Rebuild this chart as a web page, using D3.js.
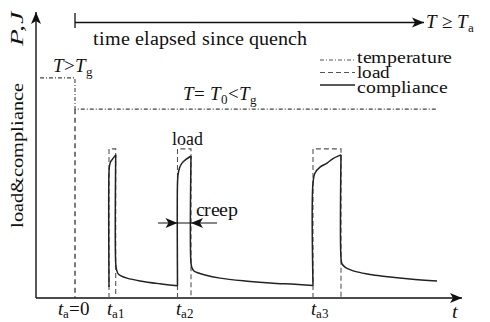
<!DOCTYPE html>
<html><head><meta charset="utf-8">
<script src="https://cdn.jsdelivr.net/npm/d3@7"></script>
<style>
@font-face{font-family:"RefSerif";font-style:normal;font-weight:400;src:local("Liberation Serif"),local("LiberationSerif"),local("Liberation Serif Regular");}
@font-face{font-family:"RefSerif";font-style:italic;font-weight:400;src:local("Liberation Serif Italic"),local("LiberationSerif-Italic");}
</style>
</head>
<body style="margin:0"><svg id="c" width="490" height="322"></svg>
<script>
// ---- data (time units: t_a = 0 at origin of ageing; level units arbitrary) ----
const loadPulses = [ // [start, end] of each load step
  [3.4, 4.07],
  [10.25, 11.6],
  [23.8, 26.6]
];
const loadLevel = 5.25;
const tickLabels = [
  {t: 0,     main: "t", sub: "a", tail: "=0"},
  {t: 3.4,   main: "t", sub: "a1", tail: ""},
  {t: 10.25, main: "t", sub: "a2", tail: ""},
  {t: 23.8,  main: "t", sub: "a3", tail: ""}
];
const temperature = [
  [-3.5, 7.75], [0, 7.75], [0, 6.65], [36.2, 6.65]
];
const complianceSegments = [
  [[3.4,0.39],[3.4,4.44],[3.45,4.65],[3.55,4.79],[3.75,4.89],[4.07,5.04]],
  [[4.07,5.04],[4.07,1.23],[4.15,1.0],[4.3,0.86],[4.6,0.78],[5.2,0.7],[6.5,0.6],[8.5,0.5],[10.25,0.43]],
  [[10.25,0.43],[10.25,4.05],[10.3,4.33],[10.45,4.58],[10.7,4.75],[11.1,4.88],[11.6,5.0]],
  [[11.6,5.0],[11.6,1.23],[11.7,1.06],[11.9,0.95],[12.2,0.9],[13,0.81],[14.5,0.7],[17,0.6],[19.5,0.53],[22,0.48],[23.8,0.44]],
  [[23.8,0.44],[23.8,4.05],[24.0,4.4],[24.5,4.61],[25.2,4.75],[25.8,4.91],[26.6,5.04]],
  [[26.6,5.04],[26.6,1.41],[26.7,1.2],[27.0,1.09],[27.5,1.0],[28.2,0.92],[29.5,0.83],[30.8,0.77],[33.5,0.67],[36.2,0.6]]
];
const legendItems = [
  {label: "temperature", dash: "4,2,1,2"},
  {label: "load", dash: "5,3"},
  {label: "compliance", dash: null}
];

// ---- drawing ----
const FONT = "RefSerif, Liberation Serif, Times New Roman, serif";
const svg = d3.select("#c");
const x = d3.scaleLinear().domain([0, 38.7]).range([75, 462]);
const y = d3.scaleLinear().domain([0, 10]).range([298, 14]);

const line = d3.line().x(d => x(d[0])).y(d => y(d[1]));

function arrowHead(x2, y2, angle){
  const L = 12, W = 5, n = 3;
  const c = Math.cos(angle), s = Math.sin(angle);
  const pt = (a, b) => [x2 + a*c - b*s, y2 + a*s + b*c];
  const pts = [pt(0,0), pt(-L, -W), pt(-L+n, 0), pt(-L, W)];
  svg.append("path").attr("d", "M" + pts.map(p => p.join(",")).join("L") + "Z").attr("fill","#111");
}
function arrowLine(x1, y1, x2, y2, w){
  svg.append("line").attr("x1",x1).attr("y1",y1).attr("x2",x2).attr("y2",y2)
    .attr("stroke","#111").attr("stroke-width",w);
  arrowHead(x2, y2, Math.atan2(y2-y1, x2-x1));
}

// axes
arrowLine(x(-3.9), y(0), x(38.7), y(0), 1.4);
arrowLine(x(-3.9), y(0), x(-3.9), 12, 1.4);

// time-elapsed arrow
svg.append("line").attr("x1", x(0)).attr("y1", 13).attr("x2", x(0)).attr("y2", 28)
  .attr("stroke","#111").attr("stroke-width",1.3);
arrowLine(x(0), 22.5, 424, 22.5, 1.3);

// temperature
svg.append("path").attr("d", line(temperature)).attr("fill","none")
  .attr("stroke","#444").attr("stroke-width",1.1).attr("stroke-dasharray","4,2,1,2");
// quench dashed line
svg.append("line").attr("x1", x(0)).attr("x2", x(0)).attr("y1", y(6.65)).attr("y2", y(0))
  .attr("stroke","#333").attr("stroke-width",1.3).attr("stroke-dasharray","5,3.5");

// load pulses
svg.selectAll(".load").data(loadPulses).join("path").attr("class","load")
  .attr("d", d => line([[d[0],0],[d[0],loadLevel],[d[1],loadLevel],[d[1],0]]))
  .attr("fill","none").attr("stroke","#555").attr("stroke-width",1.1).attr("stroke-dasharray","5,3");

// compliance
const cline = d3.line().x(d => x(d[0])).y(d => y(d[1])).curve(d3.curveCatmullRom.alpha(0.5));
svg.selectAll(".comp").data(complianceSegments).join("path").attr("class","comp")
  .attr("d", cline).attr("fill","none").attr("stroke","#222").attr("stroke-width",1.5);

// creep arrows
svg.append("line").attr("x1",158).attr("x2",217).attr("y1",223).attr("y2",223)
  .attr("stroke","#111").attr("stroke-width",1.2);
arrowHead(x(loadPulses[1][0]), 223, 0);
arrowHead(x(loadPulses[1][1]), 223, Math.PI);

// texts
const fs = 19, ss = 13;
function T(sel){ return sel.append("text").attr("font-family", FONT).attr("fill","#111"); }
function sp(t){ return t.append("tspan").attr("font-family", FONT); }
function sub(t, s){ sp(t).attr("font-size", ss).attr("dy",4).text(s); }

T(svg).attr("x",93).attr("y",45).attr("font-size",20)
  .attr("textLength",214).attr("lengthAdjust","spacingAndGlyphs").text("time elapsed since quench");

let t1 = T(svg).attr("x",426).attr("y",28).attr("font-size",fs);
sp(t1).attr("font-style","italic").text("T");
sp(t1).text(" ≥ ");
sp(t1).attr("font-style","italic").text("T");
sub(t1,"a");

let t2 = T(svg).attr("x",53).attr("y",72).attr("font-size",fs);
sp(t2).attr("font-style","italic").text("T");
sp(t2).text(">");
sp(t2).attr("font-style","italic").text("T");
sub(t2,"g");

let t3 = T(svg).attr("x",183).attr("y",100).attr("font-size",fs);
sp(t3).attr("font-style","italic").text("T");
sp(t3).text("= ");
sp(t3).attr("font-style","italic").text("T");
sp(t3).attr("font-size",ss).attr("dy",4).text("0");
sp(t3).attr("dy",-4).text("<");
sp(t3).attr("font-style","italic").text("T");
sub(t3,"g");

// legend
const lg = svg.append("g").selectAll("g").data(legendItems).join("g")
  .attr("transform",(d,i)=>`translate(320,${60 + i*12.5})`);
lg.append("line").attr("x1",0).attr("x2",35).attr("y1",0).attr("y2",0)
  .attr("stroke",(d,i)=> i===2 ? "#222" : "#555").attr("stroke-width",(d,i)=> i===2?1.5:1.1)
  .attr("stroke-dasharray", d => d.dash);
lg.append("text").attr("font-family", FONT).attr("fill","#111")
  .attr("x",37).attr("y",(d,i)=> 3 + i*2.5).attr("font-size",18)
  .attr("textLength",(d,i)=>[95,33,91][i]).attr("lengthAdjust","spacingAndGlyphs").text(d => d.label);

// annotations
T(svg).attr("x",172).attr("y",145).attr("font-size",fs)
  .attr("textLength",31).attr("lengthAdjust","spacingAndGlyphs").text("load");
T(svg).attr("x",196).attr("y",216).attr("font-size",fs)
  .attr("textLength",42).attr("lengthAdjust","spacingAndGlyphs").text("creep");

// tick labels
const tl = svg.selectAll(".tl").data(tickLabels).join("text").attr("class","tl")
  .attr("font-family", FONT).attr("fill","#111")
  .attr("x",(d,i)=> i===0 ? x(d.t)-17 : x(d.t)-2).attr("y",315).attr("font-size",fs);
tl.append("tspan").attr("font-family", FONT).attr("font-style","italic").text(d=>d.main);
tl.append("tspan").attr("font-family", FONT).attr("font-size",ss).attr("dy",3).text(d=>d.sub);
tl.append("tspan").attr("font-family", FONT).attr("dy",-3).text(d=>d.tail);
T(svg).attr("x",452).attr("y",318).attr("font-size",20).attr("font-style","italic").text("t");

// y label
T(svg).attr("transform","translate(23,228) rotate(-90)").attr("font-size",18)
  .attr("textLength",145).attr("lengthAdjust","spacingAndGlyphs").text("load&compliance");
T(svg).attr("transform","translate(23,46) rotate(-90)").attr("font-size",18)
  .attr("font-style","italic").attr("textLength",34).attr("lengthAdjust","spacingAndGlyphs").text("P,J");
</script></body></html>
